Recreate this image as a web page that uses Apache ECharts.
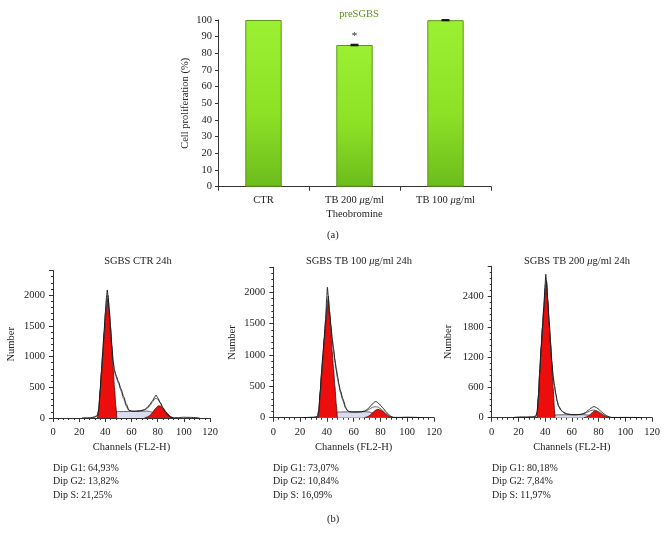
<!DOCTYPE html>
<html>
<head>
<meta charset="utf-8">
<script src="https://cdn.jsdelivr.net/npm/echarts@6/dist/echarts.min.js"></script>
<style>html,body{margin:0;padding:0;background:#fff}#c{width:668px;height:540px}</style>
</head>
<body>
<div id="c"></div>
<script>
// ---------- (a) bar chart data ----------
var barCategories = ['CTR', 'TB 200 μg/ml', 'TB 100 μg/ml'];
var barValues = [100, 85, 99.9];
var barErrors = [0, 0.4, 0.3];
var barStars = ['', '*', ''];
var barYTicks = [0, 100, 10];

// ---------- (b) histogram data: [channel, count] ----------
var ctrG1 = [[34,0],[35,120],[36,420],[37,700],[38,1000],[39,1300],[40,1580],[41,1820],[42,1950],[43,1660],[44,1370],[45,1080],[46,790],[47,500],[48,200],[48.8,0]];
var ctrG2 = [[70,0],[72,15],[74,40],[76,85],[78,145],[80,190],[81,200],[82,195],[84,160],[86,110],[88,60],[90,22],[92,0]];
var ctrS  = [[34,0],[36,20],[38,40],[40,60],[42,75],[44,88],[46,98],[50,104],[55,106],[60,108],[65,110],[70,112],[73,110],[76,95],[79,70],[82,42],[85,20],[88,6],[91,0]];
var ctrData = [[22,0],[28,5],[32,15],[34,40],[35,150],[36,450],[37,760],[38,1070],[39,1400],[40,1720],[41,2000],[41.5,2085],[42,2000],[43,1780],[44,1480],[45,1180],[46,920],[47,780],[48,710],[50,595],[52,473],[54,350],[56,228],[58,130],[60,115],[62,110],[64,112],[66,118],[68,125],[70,140],[72,170],[74,220],[76,280],[78,350],[78.7,375],[80,330],[82,250],[84,170],[86,100],[88,40],[90,12],[92,5],[96,8],[100,12],[105,10],[110,5],[112,0]];
var ctrFit = [[30,0],[34,40],[35,140],[36,440],[37,740],[38,1050],[39,1370],[40,1680],[41,1920],[42,2000],[43,1760],[44,1460],[45,1160],[46,890],[47,760],[48,680],[50,570],[52,440],[54,310],[56,190],[58,120],[60,106],[62,106],[64,108],[66,112],[68,118],[70,130],[72,155],[74,200],[76,260],[78,320],[80,310],[82,245],[84,160],[86,85],[88,35],[90,10],[92,0]];

var tb100G1 = [[33.5,0],[34,100],[35,380],[36,660],[37,940],[38,1210],[39,1470],[40,1700],[41,1880],[42,1604],[43,1328],[44,1052],[45,776],[46,500],[47,224],[47.8,0]];
var tb100G2 = [[68,0],[70,12],[72,35],[74,75],[76,115],[78,134],[80,122],[82,95],[84,60],[86,30],[88,8],[89,0]];
var tb100S  = [[33,0],[35,15],[37,35],[39,55],[41,68],[43,78],[45,85],[48,90],[52,92],[56,93],[60,94],[64,95],[68,96],[71,92],[74,78],[77,55],[80,32],[83,15],[86,5],[88,0]];
var tb100Data = [[22,0],[30,8],[33,20],[34,130],[35,420],[36,720],[37,1000],[38,1280],[39,1560],[40,1950],[40.4,2080],[41,1950],[42,1700],[43,1480],[44,1260],[45,1100],[46,930],[47,790],[48,660],[49,540],[50,440],[52,300],[54,170],[55,120],[57,95],[60,90],[63,90],[66,95],[68,105],[70,130],[72,170],[74,220],[76,255],[77,255],[78,240],[80,200],[82,150],[84,100],[86,55],[88,20],[90,5],[95,5],[100,8],[105,6],[110,3],[112,0]];
var tb100Fit = [[30,0],[33,15],[34,120],[35,400],[36,690],[37,970],[38,1240],[39,1510],[40,1780],[41,1940],[42,1680],[43,1450],[44,1230],[45,1060],[46,890],[47,750],[48,620],[49,510],[50,410],[52,270],[54,150],[56,100],[58,92],[60,92],[63,93],[66,96],[68,100],[70,115],[72,140],[74,165],[76,175],[78,170],[80,145],[82,110],[84,70],[86,35],[88,10],[90,0]];

var tb200G1 = [[34,0],[35,380],[36,900],[37,1350],[38,1760],[39,2130],[40,2460],[41,2700],[42,2280],[43,1860],[44,1430],[45,1010],[46,590],[47,170],[47.4,0]];
var tb200G2 = [[69,0],[71,15],[73,45],[75,95],[77,139],[79,125],[81,95],[83,60],[85,30],[87,8],[88,0]];
var tb200S  = [[34,0],[36,12],[38,25],[40,35],[43,45],[46,52],[50,56],[55,58],[60,58],[65,60],[69,60],[72,52],[75,38],[78,22],[81,10],[84,3],[86,0]];
var tb200Data = [[16,0],[18,10],[22,15],[26,15],[30,20],[33,30],[34,120],[35,450],[36,950],[37,1400],[38,1800],[39,2200],[40,2650],[40.5,2840],[41,2700],[42,2330],[43,1920],[44,1510],[45,1120],[46,820],[47,640],[48,480],[49,340],[50,240],[52,150],[54,105],[56,80],[58,68],[60,62],[63,60],[66,65],[68,75],[70,100],[72,140],[74,185],[76,215],[77,218],[78,205],[80,170],[82,120],[84,75],[86,40],[88,15],[90,5],[95,5],[100,6],[105,5],[110,3],[112,0]];
var tb200Fit = [[30,0],[33,20],[34,110],[35,430],[36,930],[37,1380],[38,1780],[39,2170],[40,2560],[41,2720],[42,2300],[43,1890],[44,1480],[45,1090],[46,790],[47,610],[48,450],[49,320],[50,225],[52,140],[54,95],[56,72],[58,62],[60,58],[63,58],[66,62],[68,70],[70,88],[72,115],[74,140],[76,152],[78,145],[80,120],[82,85],[84,50],[86,25],[88,8],[90,0]];

var histTitles = ['SGBS CTR 24h', 'SGBS TB 100 {i|μ}g/ml 24h', 'SGBS TB 200 {i|μ}g/ml 24h'];
var histYMax = [2400, 2400, 3000];
var histYInterval = [500, 500, 600];
var histXTicks = [0, 120, 20];
var dipLines = [
  ['Dip G1: 64,93%', 'Dip G2: 13,82%', 'Dip S: 21,25%'],
  ['Dip G1: 73,07%', 'Dip G2: 10,84%', 'Dip S: 16,09%'],
  ['Dip G1: 80,18%', 'Dip G2: 7,84%', 'Dip S: 11,97%']
];
var panels = [
  {g1: ctrG1, g2: ctrG2, s: ctrS, data: ctrData, fit: ctrFit},
  {g1: tb100G1, g2: tb100G2, s: tb100S, data: tb100Data, fit: tb100Fit},
  {g1: tb200G1, g2: tb200G2, s: tb200S, data: tb200Data, fit: tb200Fit}
];

// ---------- layout ----------
var FONT = '"Liberation Serif", "DejaVu Serif", serif';
var TXT = '#222';
var histGrids = [
  {left: 53, right: 458, top: 270.6, bottom: 122},
  {left: 273.3, right: 234, top: 267.2, bottom: 122.3},
  {left: 491.7, right: 16, top: 266.2, bottom: 122.3}
];
var dipX = [53, 273, 492];
var titleX = [133, 354, 572];
var plain = function (v) { return String(v); };

var chart = echarts.init(document.getElementById('c'), null, {renderer: 'canvas'});

var grids = [{left: 218, right: 177, top: 20, bottom: 353.3}].concat(histGrids);
var xAxes = [{
  gridIndex: 0, type: 'category', data: barCategories,
  axisLine: {lineStyle: {color: '#333', width: 1}},
  axisTick: {show: true, length: 4, interval: 0, lineStyle: {color: '#333'}},
  axisLabel: {color: TXT, fontFamily: FONT, fontSize: 10.5, margin: 8, interval: 0,
    formatter: function (v) { return v.replace('μ', '{i|μ}'); },
    rich: {i: {fontStyle: 'italic', fontFamily: FONT, fontSize: 10.5, color: TXT}}},
  name: 'Theobromine', nameLocation: 'middle', nameGap: 22,
  nameTextStyle: {color: TXT, fontFamily: FONT, fontSize: 10.5}
}];
var yAxes = [{
  gridIndex: 0, type: 'value', min: barYTicks[0], max: barYTicks[1], interval: barYTicks[2],
  axisLine: {show: true, lineStyle: {color: '#333'}},
  axisTick: {show: true, length: 3, lineStyle: {color: '#333'}},
  splitLine: {show: false},
  axisLabel: {color: TXT, fontFamily: FONT, fontSize: 10.5, margin: 6, formatter: plain},
  name: 'Cell proliferation (%)', nameLocation: 'middle', nameGap: 27,
  nameTextStyle: {color: TXT, fontFamily: FONT, fontSize: 10.5}
}];
var titles = [{
  text: 'preSGBS', left: 354, top: 4, textAlign: 'center',
  textStyle: {color: '#5e8e1c', fontFamily: FONT, fontSize: 10.5, fontWeight: 'normal'}
}];
var series = [{
  type: 'bar', xAxisIndex: 0, yAxisIndex: 0, barWidth: '40%',
  data: barValues.map(function (v, i) {
    return {value: v, label: {show: !!barStars[i], formatter: barStars[i]}};
  }),
  label: {position: 'top', distance: 3, color: TXT, fontFamily: FONT, fontSize: 11},
  itemStyle: {
    color: new echarts.graphic.LinearGradient(0, 0, 0, 1, [
      {offset: 0, color: '#9cf032'}, {offset: 0.55, color: '#8ee226'}, {offset: 1, color: '#6cbc1c'}
    ]),
    borderColor: '#5b961a', borderWidth: 1
  }
}, {
  type: 'custom', xAxisIndex: 0, yAxisIndex: 0,
  data: barValues.map(function (v, i) { return [i, v, barErrors[i]]; }),
  renderItem: function (params, api) {
    var e = api.value(2);
    if (!e) return null;
    var top = api.coord([api.value(0), api.value(1) + e]);
    var bot = api.coord([api.value(0), api.value(1) - e]);
    var hw = 4;
    return {type: 'group', children: [
      {type: 'line', shape: {x1: top[0], y1: top[1], x2: bot[0], y2: bot[1]}, style: {stroke: '#111', lineWidth: 1}},
      {type: 'line', shape: {x1: top[0] - hw, y1: top[1], x2: top[0] + hw, y2: top[1]}, style: {stroke: '#111', lineWidth: 1.2}},
      {type: 'line', shape: {x1: bot[0] - hw, y1: bot[1], x2: bot[0] + hw, y2: bot[1]}, style: {stroke: '#111', lineWidth: 1.2}}
    ]};
  },
  z: 5
}];

var nameGaps = [36, 36, 38];
panels.forEach(function (p, k) {
  var gi = k + 1;
  xAxes.push({
    gridIndex: gi, type: 'value', min: histXTicks[0], max: histXTicks[1], interval: histXTicks[2],
    axisLine: {lineStyle: {color: '#333'}},
    axisTick: {show: true, length: 4, lineStyle: {color: '#333'}},
    minorTick: {show: true, splitNumber: 5, length: 2, lineStyle: {color: '#333'}},
    splitLine: {show: false},
    axisLabel: {color: TXT, fontFamily: FONT, fontSize: 10.5, margin: 9, formatter: plain},
    name: 'Channels (FL2-H)', nameLocation: 'middle', nameGap: 24,
    nameTextStyle: {color: TXT, fontFamily: FONT, fontSize: 10.5}
  });
  yAxes.push({
    gridIndex: gi, type: 'value', min: 0, max: histYMax[k], interval: histYInterval[k],
    axisLine: {show: true, lineStyle: {color: '#333'}},
    axisTick: {show: true, length: 4, lineStyle: {color: '#333'}},
    minorTick: {show: true, splitNumber: 5, length: 2, lineStyle: {color: '#333'}},
    splitLine: {show: false},
    axisLabel: {color: TXT, fontFamily: FONT, fontSize: 10.5, margin: 8, showMaxLabel: false, formatter: plain},
    name: 'Number', nameLocation: 'middle', nameGap: nameGaps[k],
    nameTextStyle: {color: TXT, fontFamily: FONT, fontSize: 10.5}
  });
  titles.push({
    text: histTitles[k], left: titleX[k], top: 251, textAlign: 'center',
    textStyle: {color: TXT, fontFamily: FONT, fontSize: 10.5, fontWeight: 'normal',
      rich: {i: {fontStyle: 'italic', fontFamily: FONT, fontSize: 10.5, color: TXT}}}
  });
  var base = {xAxisIndex: gi, yAxisIndex: gi, type: 'line', symbol: 'none', smooth: 0.2,
    smoothMonotone: 'x', animation: false};
  series.push(Object.assign({}, base, {
    data: p.s, z: 2, lineStyle: {color: '#3a3a4a', width: 0.8},
    areaStyle: {color: '#d9dcef', opacity: 1}
  }));
  series.push(Object.assign({}, base, {
    data: p.g1, z: 3, lineStyle: {color: '#4a0606', width: 0.8},
    areaStyle: {color: '#ec0d0d', opacity: 1}
  }));
  series.push(Object.assign({}, base, {
    data: p.g2, z: 3, lineStyle: {color: '#4a0606', width: 0.8},
    areaStyle: {color: '#ec0d0d', opacity: 1}
  }));
  series.push(Object.assign({}, base, {
    data: p.fit, z: 4, lineStyle: {color: '#555', width: 0.9}
  }));
  series.push(Object.assign({}, base, {
    data: p.data, z: 5, lineStyle: {color: '#111', width: 0.9}
  }));
});

var graphics = [
  {type: 'text', left: 334 - 7, top: 230, style: {text: '(a)', fill: TXT, font: '10.5px ' + FONT}},
  {type: 'text', left: 334 - 7, top: 514, style: {text: '(b)', fill: TXT, font: '10.5px ' + FONT}}
];
dipLines.forEach(function (lines, k) {
  lines.forEach(function (t, j) {
    graphics.push({type: 'text', left: dipX[k], top: 463 + j * 13.7,
      style: {text: t, fill: TXT, font: '10px ' + FONT}});
  });
});

chart.setOption({
  animation: false,
  title: titles,
  grid: grids,
  xAxis: xAxes,
  yAxis: yAxes,
  series: series,
  graphic: graphics
});
</script>
</body>
</html>
